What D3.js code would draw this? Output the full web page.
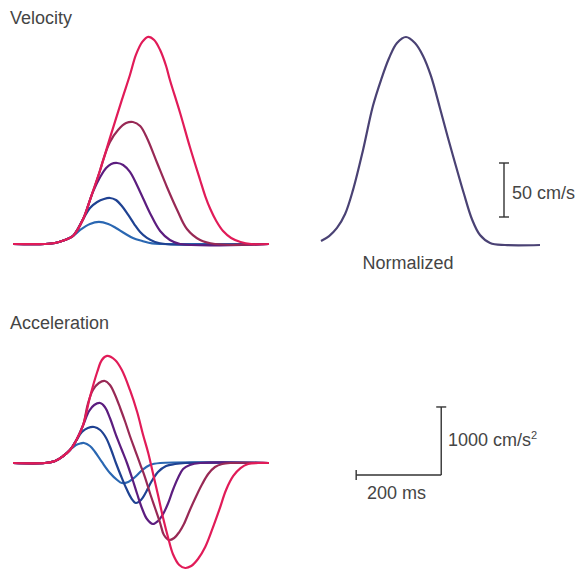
<!DOCTYPE html>
<html lang="en">
	<head>
		<meta charset="utf-8">
		<title>Velocity and acceleration profiles</title>
		<script src="https://cdn.jsdelivr.net/npm/d3@7"></script>
		<style type="text/css">
			body {
				margin: 0;
				background: #fff;
			}
			text {
				font-family: "Liberation Sans", Helvetica, Arial, sans-serif;
				font-size: 18px;
				fill: #454545;
			}
		</style>
	</head>
	<body>
		<script>
			//Width and height
			var w = 581;
			var h = 570;

			//Series names and colours, smallest movement first
			var seriesNames = ["s1", "s2", "s3", "s4", "s5"];
			var seriesColors = ["#2a67b2", "#1f4292", "#5c1d7f", "#982955", "#e11b58"];

			//Velocity traces: time (ms) and velocity (cm/s)
			var velT1 = [0, 75, 99, 122, 141, 158, 181, 202, 224, 242, 261, 282, 304, 327, 351, 602];
			var velV1 = [0, 0, 0.9, 3.7, 7.4, 13.0, 18.5, 20.4, 18.5, 14.8, 10.2, 5.6, 2.8, 0.5, 0, 0];

			var velT2 = [0, 75, 99, 122, 141, 165, 181, 198, 214, 228, 242, 256, 271, 285, 299, 315, 334, 358, 602];
			var velV2 = [0, 0, 0.9, 3.7, 7.4, 23.1, 33.3, 38.9, 41.7, 42.6, 40.7, 35.2, 26.9, 18.5, 11.1, 5.6, 1.9, 0, 0];

			var velT3 = [0, 75, 99, 122, 141, 165, 181, 188, 205, 219, 231, 245, 259, 275, 299, 322, 346, 369, 393, 602];
			var velV3 = [0, 0, 0.9, 3.7, 7.4, 23.1, 40.7, 48.2, 62.0, 70.4, 74.1, 75.0, 73.2, 66.7, 48.2, 28.7, 12.0, 3.7, 0, 0];

			var velT4 = [0, 75, 99, 122, 141, 165, 181, 205, 212, 228, 247, 266, 282, 299, 315, 339, 362, 386, 409, 440, 475, 602];
			var velV4 = [0, 0, 0.9, 3.7, 7.4, 23.1, 40.7, 68.5, 77.8, 94.5, 105.6, 112.0, 113.0, 109.3, 98.2, 75.0, 52.8, 31.5, 13.9, 3.7, 0, 0];

			var velT5 = [0, 75, 99, 122, 141, 165, 181, 205, 228, 256, 275, 289, 304, 318, 332, 346, 360, 369, 393, 416, 440, 452, 464, 478, 494, 513, 535, 560, 602];
			var velV5 = [0, 0, 0.9, 3.7, 7.4, 23.1, 40.7, 68.5, 98.2, 133.4, 156.5, 175.1, 187.2, 191.8, 188.9, 179.6, 164.8, 151.9, 121.3, 89.8, 59.3, 44.4, 32.4, 21.3, 12.0, 5.6, 1.9, 0, 0];

			//Acceleration traces: time (ms) and acceleration (cm/s^2)
			var accT1 = [0, 75, 99, 118, 134, 148, 158, 167, 181, 193, 209, 228, 245, 256, 271, 287, 304, 322, 346, 602];
			var accA1 = [0, 0, 29, 103, 191, 265, 287, 294, 250, 162, 15, -147, -250, -294, -279, -206, -103, -29, 0, 0];

			var accT2 = [0, 75, 99, 118, 134, 148, 162, 176, 191, 205, 219, 231, 242, 254, 266, 278, 289, 301, 313, 325, 341, 360, 381, 405, 602];
			var accA2 = [0, 0, 29, 103, 191, 324, 456, 515, 529, 485, 368, 191, 0, -191, -368, -515, -588, -544, -426, -279, -132, -44, -15, 0, 0];

			var accT3 = [0, 75, 99, 118, 134, 148, 165, 179, 191, 205, 216, 228, 242, 256, 268, 280, 292, 304, 315, 329, 341, 353, 365, 376, 388, 400, 416, 440, 602];
			var accA3 = [0, 0, 29, 103, 191, 324, 559, 765, 853, 882, 824, 662, 412, 191, 0, -221, -456, -676, -824, -897, -853, -750, -588, -397, -221, -88, -29, 0, 0];

			var accT4 = [0, 75, 99, 118, 134, 148, 165, 176, 188, 202, 216, 228, 240, 252, 264, 275, 287, 299, 311, 322, 334, 346, 355, 367, 379, 391, 402, 416, 431, 445, 459, 475, 492, 511, 602];
			var accA4 = [0, 0, 29, 103, 191, 324, 559, 868, 1074, 1176, 1206, 1147, 1000, 809, 603, 397, 191, -15, -221, -441, -662, -882, -1059, -1132, -1103, -1015, -897, -691, -485, -309, -162, -59, -15, 0, 0];

			var accT5 = [0, 75, 99, 118, 134, 148, 165, 181, 198, 209, 221, 240, 256, 275, 292, 306, 318, 329, 341, 353, 365, 376, 391, 405, 419, 435, 452, 468, 485, 501, 518, 535, 553, 576, 602];
			var accA5 = [0, 0, 29, 103, 191, 324, 559, 971, 1338, 1515, 1574, 1515, 1368, 1074, 750, 412, 147, -147, -471, -809, -1103, -1338, -1500, -1544, -1515, -1412, -1235, -985, -691, -397, -191, -74, -15, 0, 0];

			//Normalized velocity profile: normalized time and normalized velocity
			var normT = [0, 0.037, 0.073, 0.110, 0.146, 0.192, 0.237, 0.274, 0.311, 0.347, 0.388, 0.429, 0.466, 0.502, 0.543, 0.580, 0.616, 0.653, 0.689, 0.726, 0.772, 0.840, 1];
			var normV = [0.019, 0.043, 0.082, 0.149, 0.264, 0.457, 0.668, 0.793, 0.899, 0.971, 1, 0.971, 0.909, 0.813, 0.659, 0.514, 0.380, 0.245, 0.125, 0.048, 0.010, 0, 0];

			var velT = [velT1, velT2, velT3, velT4, velT5];
			var velV = [velV1, velV2, velV3, velV4, velV5];
			var accT = [accT1, accT2, accT3, accT4, accT5];
			var accA = [accA1, accA2, accA3, accA4, accA5];

			//Scale bar values
			var velBar = [25, 75];				//cm/s
			var accBar = [-176, 824];			//cm/s^2
			var timeBar = [807, 1007];			//ms

			//Create scale functions
			var xScale = d3.scaleLinear()
								.domain([0, 602])
								.range([13, 269]);

			var yVel = d3.scaleLinear()
								.domain([0, 50])
								.range([244, 190]);

			var yAcc = d3.scaleLinear()
								.domain([0, 1000])
								.range([463, 395]);

			var xNorm = d3.scaleLinear()
								.domain([0, 1])
								.range([321, 540]);

			var yNorm = d3.scaleLinear()
								.domain([0, 1])
								.range([245, 37]);

			//Create SVG element
			var svg = d3.select("body")
						.append("svg")
						.attr("width", w)
						.attr("height", h);

			function zip(xs, ys) {
				return xs.map(function(x, i) { return [x, ys[i]]; });
			}

			var smooth = d3.curveCatmullRom.alpha(0.5);

			var velLine = d3.line()
							.x(function(d) { return xScale(d[0]); })
							.y(function(d) { return yVel(d[1]); })
							.curve(smooth);

			var accLine = d3.line()
							.x(function(d) { return xScale(d[0]); })
							.y(function(d) { return yAcc(d[1]); })
							.curve(smooth);

			var normLine = d3.line()
							.x(function(d) { return xNorm(d[0]); })
							.y(function(d) { return yNorm(d[1]); })
							.curve(smooth);

			//Velocity curves (largest drawn last)
			svg.append("g")
				.selectAll("path")
				.data(seriesNames)
				.enter()
				.append("path")
				.attr("d", function(d, i) { return velLine(zip(velT[i], velV[i])); })
				.attr("fill", "none")
				.attr("stroke", function(d, i) { return seriesColors[i]; })
				.attr("stroke-width", 2.2);

			//Acceleration curves
			svg.append("g")
				.selectAll("path")
				.data(seriesNames)
				.enter()
				.append("path")
				.attr("d", function(d, i) { return accLine(zip(accT[i], accA[i])); })
				.attr("fill", "none")
				.attr("stroke", function(d, i) { return seriesColors[i]; })
				.attr("stroke-width", 2.2);

			//Normalized curve
			svg.append("path")
				.attr("d", normLine(zip(normT, normV)))
				.attr("fill", "none")
				.attr("stroke", "#4a4274")
				.attr("stroke-width", 2.2);

			//Scale bars
			var bars = svg.append("g")
						.attr("stroke", "#333")
						.attr("stroke-width", 1.4)
						.attr("fill", "none");

			var vx = 504;
			bars.append("line")
				.attr("x1", vx).attr("x2", vx)
				.attr("y1", yVel(velBar[0])).attr("y2", yVel(velBar[1]));
			velBar.forEach(function(v) {
				bars.append("line")
					.attr("x1", vx - 5).attr("x2", vx + 5)
					.attr("y1", yVel(v)).attr("y2", yVel(v));
			});

			var ax = xScale(timeBar[1]);
			bars.append("line")
				.attr("x1", ax).attr("x2", ax)
				.attr("y1", yAcc(accBar[0])).attr("y2", yAcc(accBar[1]));
			bars.append("line")
				.attr("x1", ax - 5).attr("x2", ax + 5)
				.attr("y1", yAcc(accBar[1])).attr("y2", yAcc(accBar[1]));
			bars.append("line")
				.attr("x1", xScale(timeBar[0])).attr("x2", ax)
				.attr("y1", yAcc(accBar[0])).attr("y2", yAcc(accBar[0]));
			bars.append("line")
				.attr("x1", xScale(timeBar[0])).attr("x2", xScale(timeBar[0]))
				.attr("y1", yAcc(accBar[0]) - 5).attr("y2", yAcc(accBar[0]) + 5);

			//Labels
			svg.append("text").attr("x", 10).attr("y", 24).text("Velocity");
			svg.append("text").attr("x", 10).attr("y", 329).text("Acceleration");
			svg.append("text").attr("x", 408).attr("y", 269)
				.attr("text-anchor", "middle").text("Normalized");
			svg.append("text").attr("x", 512).attr("y", 199).text("50 cm/s");
			svg.append("text").attr("x", 367).attr("y", 499).text("200 ms");

			var accLabel = svg.append("text").attr("x", 448).attr("y", 446);
			accLabel.append("tspan").text("1000 cm/s");
			accLabel.append("tspan").attr("dy", -7).style("font-size", "11px").text("2");
		</script>
	</body>
</html>
